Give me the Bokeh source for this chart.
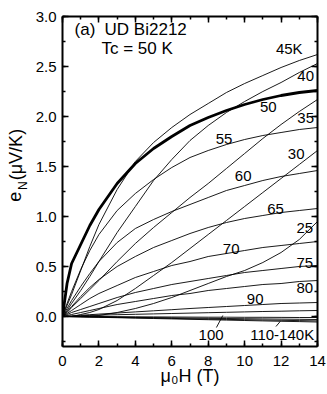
import math
from bokeh.plotting import figure
from bokeh.layouts import row
from bokeh.models import (LinearAxis, SingleIntervalTicker, Range1d, Label,
                          PrintfTickFormatter, CustomJSTickFormatter)
from bokeh.core.properties import value
from bokeh.embed import file_html
from bokeh.resources import INLINE

# ---------------- data ----------------
field_T = [0, 0.25, 0.5, 1, 1.5, 2, 3, 4, 5, 6, 7, 8, 9, 10, 11, 12, 13, 14]

eN_25K = [0, 0, 0, 0, 0.005, 0.01, 0.04, 0.08, 0.13, 0.19, 0.26, 0.33, 0.40, 0.46, 0.54, 0.64, 0.77, 0.95]
eN_30K = [0, 0, 0, 0.02, 0.04, 0.07, 0.16, 0.28, 0.41, 0.54, 0.68, 0.82, 0.96, 1.10, 1.24, 1.38, 1.52, 1.66]
eN_35K = [0, 0.04, 0.09, 0.18, 0.27, 0.36, 0.55, 0.73, 0.89, 1.04, 1.19, 1.33, 1.48, 1.63, 1.78, 1.92, 2.05, 2.17]
eN_40K = [0, 0.06, 0.13, 0.26, 0.40, 0.55, 0.84, 1.10, 1.36, 1.57, 1.76, 1.91, 2.04, 2.15, 2.25, 2.34, 2.44, 2.53]
eN_45K = [0, 0.11, 0.22, 0.46, 0.70, 0.92, 1.27, 1.55, 1.74, 1.89, 2.02, 2.13, 2.24, 2.33, 2.41, 2.49, 2.56, 2.62]
eN_50K = [0, 0.33, 0.53, 0.72, 0.91, 1.07, 1.33, 1.53, 1.68, 1.80, 1.91, 1.99, 2.06, 2.12, 2.17, 2.21, 2.24, 2.26]
eN_55K = [0, 0.13, 0.25, 0.47, 0.66, 0.82, 1.06, 1.23, 1.37, 1.49, 1.59, 1.66, 1.72, 1.77, 1.81, 1.84, 1.87, 1.89]
eN_60K = [0, 0.08, 0.16, 0.30, 0.43, 0.55, 0.74, 0.88, 0.97, 1.05, 1.12, 1.19, 1.26, 1.31, 1.36, 1.40, 1.43, 1.46]
eN_65K = [0, 0.05, 0.10, 0.20, 0.29, 0.37, 0.50, 0.60, 0.69, 0.76, 0.83, 0.89, 0.94, 0.98, 1.01, 1.04, 1.06, 1.08]
eN_70K = [0, 0.03, 0.06, 0.12, 0.18, 0.23, 0.31, 0.39, 0.45, 0.51, 0.55, 0.60, 0.63, 0.66, 0.69, 0.71, 0.73, 0.75]
eN_75K = [0, 0.02, 0.04, 0.07, 0.10, 0.13, 0.19, 0.24, 0.28, 0.32, 0.35, 0.38, 0.41, 0.44, 0.46, 0.48, 0.50, 0.51]
eN_80K = [0, 0.01, 0.02, 0.04, 0.06, 0.08, 0.12, 0.15, 0.18, 0.21, 0.23, 0.26, 0.28, 0.30, 0.32, 0.33, 0.35, 0.36]
eN_90K = [0, 0.003, 0.006, 0.012, 0.018, 0.024, 0.035, 0.046, 0.057, 0.068, 0.08, 0.09, 0.10, 0.11, 0.12, 0.13, 0.135, 0.14]
eN_100K = [0, 0.002, 0.004, 0.008, 0.011, 0.014, 0.018, 0.022, 0.026, 0.03, 0.034, 0.038, 0.042, 0.046, 0.05, 0.053, 0.057, 0.06]
eN_110K = [0, 0, 0, 0, 0, 0, -0.002, -0.003, -0.004, -0.005, -0.006, -0.007, -0.007, -0.008, -0.008, -0.009, -0.01, -0.01]
eN_120K = [0, 0, -0.001, -0.002, -0.003, -0.004, -0.006, -0.009, -0.011, -0.013, -0.016, -0.018, -0.020, -0.022, -0.024, -0.026, -0.028, -0.03]
eN_130K = [0, -0.001, -0.002, -0.003, -0.005, -0.006, -0.009, -0.013, -0.016, -0.019, -0.023, -0.026, -0.029, -0.032, -0.035, -0.038, -0.041, -0.044]
eN_140K = [0, -0.001, -0.002, -0.004, -0.006, -0.008, -0.012, -0.016, -0.020, -0.024, -0.028, -0.032, -0.036, -0.040, -0.044, -0.048, -0.051, -0.055]

thin_series = [eN_25K, eN_30K, eN_35K, eN_40K, eN_45K, eN_55K, eN_60K, eN_65K,
               eN_70K, eN_75K, eN_80K, eN_90K, eN_100K, eN_110K, eN_120K,
               eN_130K, eN_140K]

curve_labels = ["45K", "40", "50", "35", "55", "30", "60", "65", "25", "70",
                "75", "80", "90", "100", "110-140K"]
label_x = [12.45, 13.35, 11.3, 13.35, 8.87, 12.83, 9.92, 11.7, 13.3, 9.26,
           13.3, 13.3, 10.58, 8.16, 12.06]
label_y = [2.68, 2.41, 2.10, 1.99, 1.78, 1.63, 1.41, 1.08, 0.89, 0.68,
           0.54, 0.29, 0.18, -0.18, -0.18]

# leader lines for the "100" and "110-140K" labels
leader_x0 = [8.45, 11.72]
leader_y0 = [-0.11, -0.10]
leader_x1 = [8.80, 11.95]
leader_y1 = [0.01, -0.05]

FONT = "Liberation Sans"

FIG_H = 392

p = figure(width=297, height=FIG_H, output_backend="svg", toolbar_location=None,
           x_range=Range1d(0, 14), y_range=Range1d(-0.3, 3.0),
           min_border_left=32, min_border_right=10, min_border_top=16,
           min_border_bottom=46)
p.background_fill_color = "white"
p.border_fill_color = "white"
p.outline_line_color = None
p.xgrid.visible = False
p.ygrid.visible = False

xt = SingleIntervalTicker(interval=2, num_minor_ticks=2)
yt = SingleIntervalTicker(interval=0.5, num_minor_ticks=2)

def style(ax, labels=True):
    ax.axis_line_width = 2
    ax.axis_line_color = "black"
    ax.major_tick_in = 6
    ax.major_tick_out = 0
    ax.minor_tick_in = 3
    ax.minor_tick_out = 0
    ax.major_tick_line_width = 1.5
    ax.minor_tick_line_width = 1.5
    ax.major_tick_line_color = "black"
    ax.minor_tick_line_color = "black"
    if labels:
        ax.major_label_text_font = FONT
        ax.major_label_text_font_size = "15px"
        ax.major_label_text_color = "black"
    else:
        ax.formatter = CustomJSTickFormatter(code="return ''")
        ax.major_label_standoff = 0

p.xaxis.ticker = xt
p.yaxis.ticker = yt
p.yaxis.formatter = PrintfTickFormatter(format="%.1f")
style(p.xaxis[0])
style(p.yaxis[0])
p.xaxis.major_label_standoff = 9
p.yaxis.major_label_standoff = 6

p.xaxis.axis_label = "μ₀H (T)"
p.xaxis.axis_label_text_font = FONT
p.xaxis.axis_label_text_font_size = "18px"
p.xaxis.axis_label_text_font_style = "normal"
p.xaxis.axis_label_text_color = "black"
p.xaxis.axis_label_standoff = -3

top = LinearAxis(ticker=xt)
style(top, labels=False)
p.add_layout(top, "above")
right = LinearAxis(ticker=yt)
style(right, labels=False)
p.add_layout(right, "right")

for s in thin_series:
    p.line(field_T, s, line_color="black", line_width=0.9)
p.line(field_T, eN_50K, line_color="black", line_width=2.8)

p.text(x=label_x, y=label_y, text=curve_labels, text_font=value(FONT),
       text_font_size="15px", text_align="center", text_baseline="middle",
       text_color="black")
p.segment(x0=leader_x0, y0=leader_y0, x1=leader_x1, y1=leader_y1,
          line_color="black", line_width=0.9)

# panel title
for tx, ty, tt in [(0.66, 2.87, "(a)"), (2.31, 2.87, "UD Bi2212"), (2.14, 2.68, "Tc = 50 K")]:
    p.add_layout(Label(x=tx, y=ty, text=tt, text_font=FONT, text_font_size="17px",
                       text_color="black", text_baseline="middle", text_align="left"))

# ---------- y axis title strip (e_N (μV/K)) ----------
ylab = figure(width=30, height=FIG_H, output_backend="svg", toolbar_location=None,
              x_range=Range1d(0, 30), y_range=Range1d(FIG_H, 0),
              x_axis_type=None, y_axis_type=None, min_border=0)
ylab.outline_line_color = None
ylab.xgrid.visible = False
ylab.ygrid.visible = False
ylab.text(x=[14], y=[214], text=["e"], text_font=value(FONT), text_font_size="18px",
          text_align="center", text_baseline="middle", angle=math.pi / 2,
          text_color="black")
ylab.text(x=[22.5], y=[201], text=["N"], text_font=value(FONT), text_font_size="12px",
          text_align="center", text_baseline="middle", angle=math.pi / 2,
          text_color="black")
ylab.text(x=[15], y=[164], text=["(μV/K)"], text_font=value(FONT), text_font_size="18px",
          text_align="center", text_baseline="middle", angle=math.pi / 2,
          text_color="black")

layout = row(ylab, p)
open("out.html", "w").write(file_html(layout, INLINE))
